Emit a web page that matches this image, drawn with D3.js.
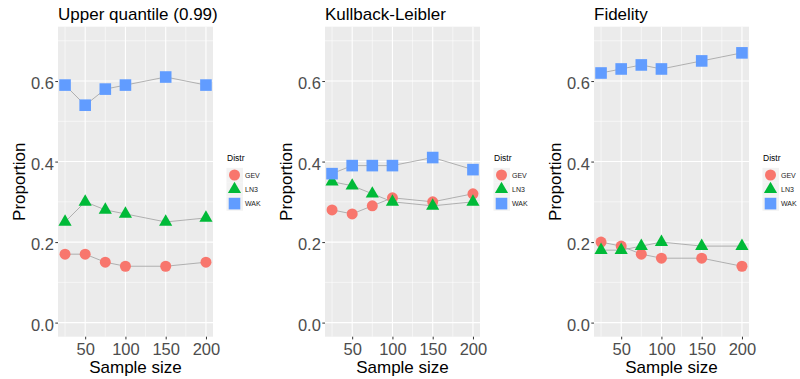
<!DOCTYPE html>
<html lang="en">
<head>
<meta charset="UTF-8">
<script src="https://cdn.jsdelivr.net/npm/d3@7"></script>
<style>
  body { margin: 0; background: #fff; }
  text { font-family: "Liberation Sans", Arial, sans-serif; }
</style>
</head>
<body>
<div id="fig"></div>
<script>
const width = 800, height = 379;

// data
const sampleSizes = [25, 50, 75, 100, 150, 200];
const distrs = ["GEV", "LN3", "WAK"];
const panelTitles = ["Upper quantile (0.99)", "Kullback-Leibler", "Fidelity"];

const upperGEV = [0.17, 0.17, 0.15, 0.14, 0.14, 0.15];
const upperLN3 = [0.25, 0.30, 0.28, 0.27, 0.25, 0.26];
const upperWAK = [0.59, 0.54, 0.58, 0.59, 0.61, 0.59];

const klGEV = [0.28, 0.27, 0.29, 0.31, 0.30, 0.32];
const klLN3 = [0.35, 0.34, 0.32, 0.30, 0.29, 0.30];
const klWAK = [0.37, 0.39, 0.39, 0.39, 0.41, 0.38];

const fidGEV = [0.20, 0.19, 0.17, 0.16, 0.16, 0.14];
const fidLN3 = [0.18, 0.18, 0.19, 0.20, 0.19, 0.19];
const fidWAK = [0.62, 0.63, 0.64, 0.63, 0.65, 0.67];

const yTicks = [0, 0.2, 0.4, 0.6];
const yMinor = [0.1, 0.3, 0.5, 0.7];
const xTicks = [50, 100, 150, 200];
const xMinor = [25, 75, 125, 175];

const panelData = [
  [upperGEV, upperLN3, upperWAK],
  [klGEV, klLN3, klWAK],
  [fidGEV, fidLN3, fidWAK]
];

const colors = {GEV: "#F8766D", LN3: "#00BA38", WAK: "#619CFF"};

const panelLefts = [58, 325, 594];
const panelW = 155, panelTop = 26.7, panelH = 310;

const svg = d3.select("#fig").append("svg")
    .attr("width", width)
    .attr("height", height);

svg.append("rect").attr("width", width).attr("height", height).attr("fill", "#fff");

function drawShape(g, kind, cx, cy) {
  if (kind === "GEV") {
    g.append("circle").attr("cx", cx).attr("cy", cy).attr("r", 5.5).attr("fill", colors.GEV);
  } else if (kind === "LN3") {
    const r = 7.6, xc = r * Math.sqrt(3) / 2, yc = r / 2;
    g.append("path")
        .attr("d", `M${cx},${cy - r}L${cx + xc},${cy + yc}L${cx - xc},${cy + yc}Z`)
        .attr("fill", colors.LN3);
  } else {
    const s = 11.6;
    g.append("rect").attr("x", cx - s / 2).attr("y", cy - s / 2)
        .attr("width", s).attr("height", s).attr("fill", colors.WAK);
  }
}

panelData.forEach((series, pi) => {
  const left = panelLefts[pi];
  const x = d3.scaleLinear().domain([25 - 8.75, 200 + 8.75]).range([left, left + panelW]);
  const y = d3.scaleLinear().domain([-0.035, 0.735]).range([panelTop + panelH, panelTop]);
  const g = svg.append("g");

  g.append("rect")
      .attr("x", left).attr("y", panelTop)
      .attr("width", panelW).attr("height", panelH)
      .attr("fill", "#EBEBEB");

  // minor grid
  yMinor.forEach(v => g.append("line")
      .attr("x1", left).attr("x2", left + panelW)
      .attr("y1", y(v)).attr("y2", y(v))
      .attr("stroke", "#fff").attr("stroke-width", 0.55));
  xMinor.forEach(v => g.append("line")
      .attr("x1", x(v)).attr("x2", x(v))
      .attr("y1", panelTop).attr("y2", panelTop + panelH)
      .attr("stroke", "#fff").attr("stroke-width", 0.55));
  // major grid
  yTicks.forEach(v => g.append("line")
      .attr("x1", left).attr("x2", left + panelW)
      .attr("y1", y(v)).attr("y2", y(v))
      .attr("stroke", "#fff").attr("stroke-width", 1.1));
  xTicks.forEach(v => g.append("line")
      .attr("x1", x(v)).attr("x2", x(v))
      .attr("y1", panelTop).attr("y2", panelTop + panelH)
      .attr("stroke", "#fff").attr("stroke-width", 1.1));

  // axes
  const yAxis = d3.axisLeft(y).tickValues(yTicks).tickFormat(d3.format(".1f"))
      .tickSize(2.7).tickPadding(1.5);
  const ya = g.append("g").attr("transform", `translate(${left},0)`).call(yAxis);
  const xAxis = d3.axisBottom(x).tickValues(xTicks).tickFormat(d3.format("d"))
      .tickSize(2.7).tickPadding(1.5);
  const xa = g.append("g").attr("transform", `translate(0,${panelTop + panelH})`).call(xAxis);
  [ya, xa].forEach(a => {
    a.select(".domain").remove();
    a.selectAll(".tick line").attr("stroke", "#333333").attr("stroke-width", 1);
    a.selectAll(".tick text")
        .attr("fill", "#4D4D4D")
        .style("font-size", "16.5px")
        .style("font-family", "'Liberation Sans', Arial, sans-serif");
  });
  ya.selectAll(".tick text").attr("dy", "0.46em");
  xa.selectAll(".tick text").attr("dy", "0.71em").attr("y", 6.5);

  // lines
  const line = d3.line().x((d, i) => x(sampleSizes[i])).y(d => y(d));
  series.forEach(vals => {
    g.append("path").attr("d", line(vals))
        .attr("fill", "none").attr("stroke", "#A0A0A0").attr("stroke-width", 0.8);
  });
  // points
  series.forEach((vals, si) => {
    vals.forEach((v, i) => drawShape(g, distrs[si], x(sampleSizes[i]), y(v)));
  });

  // titles
  g.append("text").attr("x", left).attr("y", 20)
      .style("font-size", "17px").attr("fill", "#000")
      .text(panelTitles[pi]);
  g.append("text").attr("x", left + panelW / 2).attr("y", 373)
      .attr("text-anchor", "middle")
      .style("font-size", "17px").attr("fill", "#000")
      .text("Sample size");
  g.append("text")
      .attr("transform", `translate(${left - 33},${panelTop + panelH / 2}) rotate(-90)`)
      .attr("text-anchor", "middle")
      .style("font-size", "17px").attr("fill", "#000")
      .text("Proportion");

  // legend
  const lx = left + panelW + 13.5;
  const lg = g.append("g");
  lg.append("text").attr("x", lx + 0.5).attr("y", 161)
      .style("font-size", "8.5px").attr("fill", "#000").text("Distr");
  distrs.forEach((d, k) => {
    const cy = 175 + k * 14.3;
    lg.append("rect").attr("x", lx).attr("y", cy - 7.15)
        .attr("width", 16.5).attr("height", 14.3).attr("fill", "#F2F2F2");
    drawShape(lg, d, lx + 8, cy);
    lg.append("text").attr("x", lx + 18.5).attr("y", cy + 2.6)
        .style("font-size", "7px").attr("fill", "#1A1A1A").text(d);
  });
});
</script>
</body>
</html>
